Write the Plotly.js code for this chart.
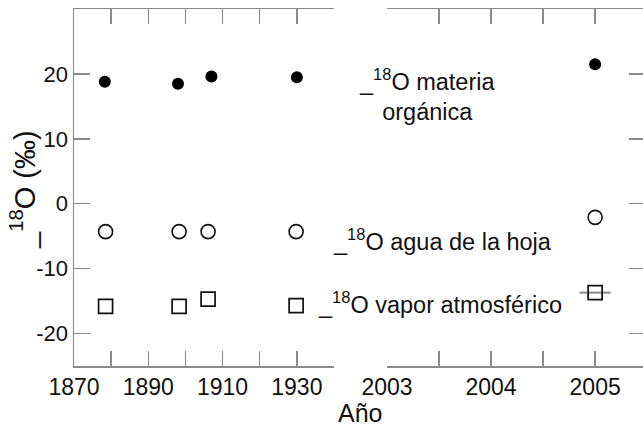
<!DOCTYPE html>
<html>
<head>
<meta charset="utf-8">
<script src="https://cdn.plot.ly/plotly-3.0.1.min.js"></script>
<style>html,body{margin:0;padding:0;background:#fff;}#chart{width:643px;height:430px;}</style>
</head>
<body>
<div id="chart"></div>
<script>
// ---- data ----
const organicYearsHist = [1878.3, 1898.0, 1907.0, 1930.0];
const organicHist = [18.8, 18.5, 19.6, 19.5];
const waterYearsHist = [1878.5, 1898.3, 1906.1, 1929.8];
const leafWaterHist = [-4.3, -4.3, -4.3, -4.3];
const vaporHist = [-15.8, -15.8, -14.7, -15.7];
const recentYears = [2005.0];
const organicRecent = [21.5];
const leafWaterRecent = [-2.1];
const vaporRecent = [-13.7];
const vaporRecentErrX = [0.15];
const histTickVals = [1870, 1890, 1910, 1930];
const histTickText = ['1870', '1890', '1910', '1930'];
const recentTickVals = [2003, 2004, 2005];
const recentTickText = ['2003', '2004', '2005'];
const yTickVals = [-20, -10, 0, 10, 20];
const yTickText = ['-20', '-10', '0', '10', '20'];

// ---- layout geometry ----
const W = 643, H = 430;
const M = {l: 74, r: 0, t: 9, b: 64};
const PW = W - M.l - M.r, PH = H - M.t - M.b;
const px = x => (x - M.l) / PW;
const py = y => (H - M.b - y) / PH;

const axisColor = '#8a8a8a';
const textColor = '#111';
const FONT = 'Liberation Sans, Arial, sans-serif';

const filled = {symbol: 'circle', size: 12, color: '#000'};
const openC = {symbol: 'circle-open', size: 14, color: '#111', line: {width: 1.6, color: '#111'}};
const openS = {symbol: 'square-open', size: 14, color: '#111', line: {width: 1.7, color: '#111'}};

const traces = [
  {x: organicYearsHist, y: organicHist, xaxis: 'x', yaxis: 'y', mode: 'markers', marker: filled, type: 'scatter'},
  {x: waterYearsHist, y: leafWaterHist, xaxis: 'x', yaxis: 'y', mode: 'markers', marker: openC, type: 'scatter'},
  {x: waterYearsHist, y: vaporHist, xaxis: 'x', yaxis: 'y', mode: 'markers', marker: openS, type: 'scatter'},
  {x: recentYears, y: organicRecent, xaxis: 'x2', yaxis: 'y2', mode: 'markers', marker: filled, type: 'scatter'},
  {x: recentYears, y: leafWaterRecent, xaxis: 'x2', yaxis: 'y2', mode: 'markers', marker: openC, type: 'scatter'},
  {x: recentYears, y: vaporRecent, xaxis: 'x2', yaxis: 'y2', mode: 'markers', marker: openS, type: 'scatter',
   error_x: {type: 'data', array: vaporRecentErrX, visible: true, color: '#888', thickness: 2, width: 0}}
];

const baseAxis = {
  showgrid: false, zeroline: false, showline: true, linecolor: axisColor, linewidth: 1.5,
  ticks: 'inside', tickcolor: axisColor, tickwidth: 1.5,
  tickfont: {family: FONT, size: 23, color: textColor}
};

const layout = {
  width: W, height: H,
  margin: M,
  paper_bgcolor: '#fff', plot_bgcolor: '#fff',
  showlegend: false,
  xaxis: Object.assign({}, baseAxis, {
    domain: [0, px(334)], range: [1870, 1940], anchor: 'y',
    tickmode: 'array', tickvals: histTickVals, ticktext: histTickText,
    ticklen: 15, mirror: 'ticks',
    minor: {tickmode: 'linear', tick0: 1870, dtick: 10, ticks: 'inside', ticklen: 15, tickcolor: axisColor, tickwidth: 1.5, showgrid: false}
  }),
  yaxis: Object.assign({}, baseAxis, {
    domain: [0, 1], range: [-25, 30], anchor: 'x',
    tickmode: 'array', tickvals: yTickVals, ticktext: yTickText,
    ticklen: 16, mirror: false,
    tickfont: {family: FONT, size: 22, color: textColor}
  }),
  xaxis2: Object.assign({}, baseAxis, {
    domain: [px(387), 1], range: [2003, 2005.46], anchor: 'y2',
    tickmode: 'array', tickvals: recentTickVals, ticktext: recentTickText,
    ticklen: 15, mirror: 'ticks',
    minor: {tickmode: 'linear', tick0: 2003, dtick: 0.5, ticks: 'inside', ticklen: 15, tickcolor: axisColor, tickwidth: 1.5, showgrid: false}
  }),
  yaxis2: Object.assign({}, baseAxis, {
    domain: [0, 1], range: [-25, 30], anchor: 'x2', side: 'right',
    tickmode: 'array', tickvals: yTickVals, ticktext: yTickText,
    showticklabels: false, showline: false, ticklen: 14, mirror: false
  }),
  annotations: [
    {xref: 'paper', yref: 'paper', x: px(427), y: py(95), xanchor: 'center', yanchor: 'middle', align: 'center',
     showarrow: false, text: '_<sup>18</sup>O materia<br>orgánica',
     font: {family: FONT, size: 23.5, color: textColor}},
    {xref: 'paper', yref: 'paper', x: px(331), y: py(240), xanchor: 'left', yanchor: 'middle', align: 'left',
     showarrow: false, text: '_<sup>18</sup>O agua de la hoja',
     font: {family: FONT, size: 23.5, color: textColor}},
    {xref: 'paper', yref: 'paper', x: px(316), y: py(303), xanchor: 'left', yanchor: 'middle', align: 'left',
     showarrow: false, text: '_<sup>18</sup>O vapor atmosférico',
     font: {family: FONT, size: 23.5, color: textColor}},
    {xref: 'paper', yref: 'paper', x: px(360), y: py(428), xanchor: 'center', yanchor: 'bottom',
     showarrow: false, text: 'Año', borderpad: 0,
     font: {family: FONT, size: 25, color: textColor}},
    {xref: 'paper', yref: 'paper', x: px(23), y: py(190), xanchor: 'center', yanchor: 'middle', textangle: -90,
     showarrow: false, text: '_<sup>18</sup>O (‰)',
     font: {family: FONT, size: 29, color: textColor}}
  ]
};

Plotly.newPlot('chart', traces, layout, {displayModeBar: false, staticPlot: true});
</script>
</body>
</html>
